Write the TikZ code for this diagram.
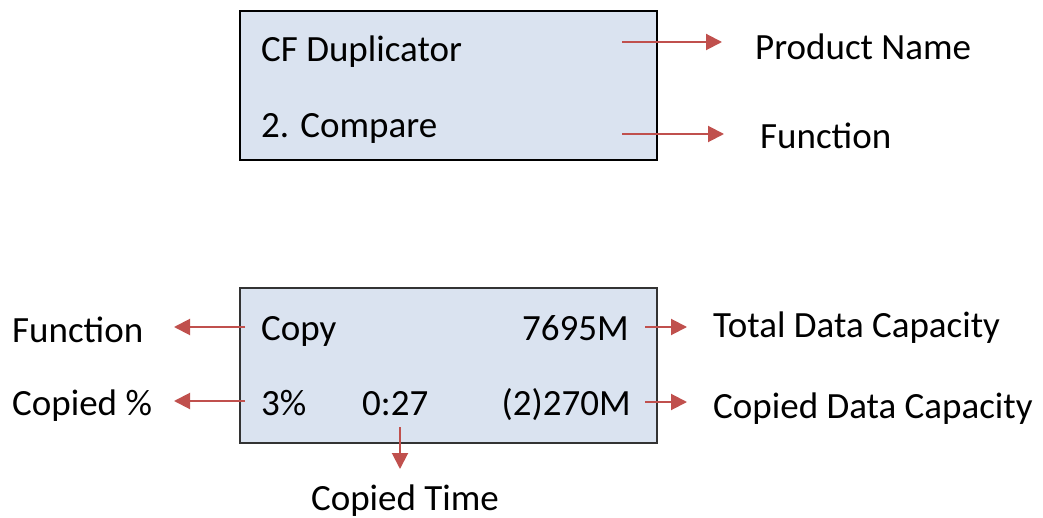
\documentclass[tikz,border=0pt]{standalone}
\usepackage{fontspec}
\setmainfont{Carlito}
\usetikzlibrary{arrows.meta}
\definecolor{lcdfill}{HTML}{DAE3F0}
\definecolor{arrred}{HTML}{C0504D}
\tikzset{
  lbl/.style={inner sep=0pt, anchor=base west, font=\fontsize{37}{44}\selectfont},
  lblr/.style={inner sep=0pt, anchor=base east, font=\fontsize{37}{44}\selectfont},
  lblc/.style={inner sep=0pt, anchor=base, font=\fontsize{37}{44}\selectfont},
  arr/.style={draw=arrred, line width=2pt, -{Triangle[length=16pt,width=16pt]}, arrred},
}
\begin{document}
\begin{tikzpicture}[x=1pt,y=-1pt]
\useasboundingbox (0,0) rectangle (1043,518);
% top box
\node[draw=black, line width=2.8pt, fill=lcdfill, minimum width=417pt, minimum height=149pt, inner sep=0pt] (topbox) at (448.5,85.5) {};
\node[lbl] (cfdup) at (261,62) {CF Duplicator};
\node[lbl] (cmp) at (261,138) {2. Compare};
\node[lbl] (pname) at (755,60) {Product Name};
\node[lbl] (func1) at (760,149) {Function};
\coordinate (s1) at (622,42);
\coordinate (e1) at (722,42);
\coordinate (s2) at (622,134);
\coordinate (e2) at (724,134);
\draw[arr] (s1) -- (e1);
\draw[arr] (s2) -- (e2);
% bottom box
\node[draw=black!80, line width=1.2pt, fill=lcdfill, minimum width=417pt, minimum height=155pt, inner sep=0pt] (botbox) at (448.5,365.5) {};
\node[lbl] (copy) at (261,340) {Copy};
\node[lblr] (cap) at (629,340) {7695M};
\node[lbl] (pct) at (261,415) {3\%};
\node[lbl] (time) at (362,415) {0:27};
\node[lblr] (ccap) at (631,415) {(2)270M};
\node[lbl] (func2) at (12,342) {Function};
\node[lbl] (cpct) at (12,415) {Copied \%};
\node[lbl] (tcap) at (713,337) {Total Data Capacity};
\node[lbl] (cdcap) at (713,418) {Copied Data Capacity};
\node[lblc] (ctime) at (405,510) {Copied Time};
\coordinate (s3) at (245,327);
\coordinate (e3) at (174,327);
\coordinate (s4) at (245,401);
\coordinate (e4) at (174,401);
\coordinate (s5) at (645,327);
\coordinate (e5) at (687,327);
\coordinate (s6) at (645,402);
\coordinate (e6) at (687,402);
\coordinate (s7) at (400,427);
\coordinate (e7) at (400,469);
\draw[arr] (s3) -- (e3);
\draw[arr] (s4) -- (e4);
\draw[arr] (s5) -- (e5);
\draw[arr] (s6) -- (e6);
\draw[arr] (s7) -- (e7);
\end{tikzpicture}
\end{document}
